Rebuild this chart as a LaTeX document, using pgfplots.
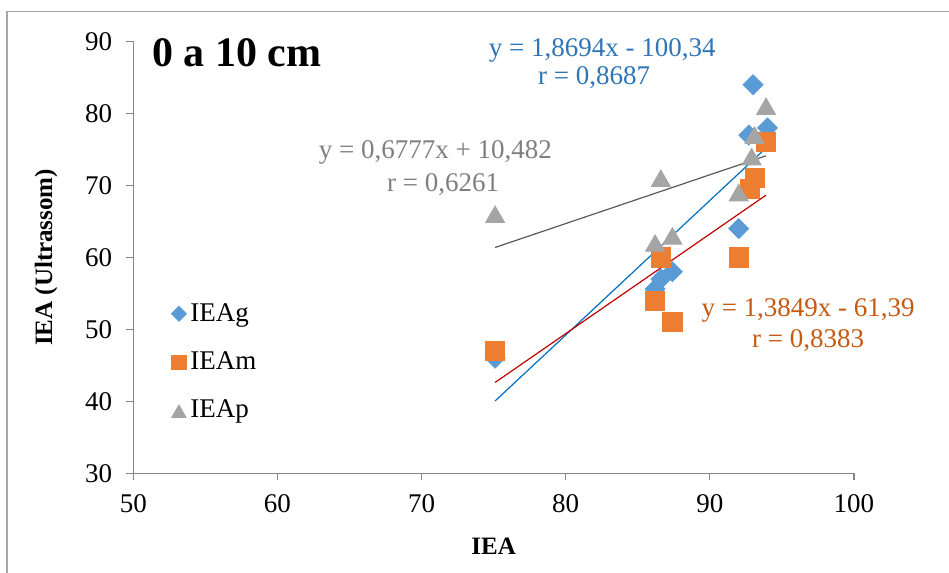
\documentclass[border=0pt]{standalone}
\usepackage{fontspec}
\setmainfont{Liberation Serif}
\usepackage{pgfplots}
\pgfplotsset{compat=1.18}
\definecolor{cg}{HTML}{5B9BD5}
\definecolor{cm}{HTML}{ED7D31}
\definecolor{cp}{HTML}{A5A5A5}
\definecolor{lg}{HTML}{0070C0}
\definecolor{lm}{HTML}{C00000}
\definecolor{lp}{HTML}{595959}
\definecolor{tg}{HTML}{2E75B6}
\definecolor{tm}{HTML}{C55A11}
\definecolor{tp}{HTML}{7F7F7F}
\definecolor{axc}{HTML}{868686}
\definecolor{frc}{HTML}{A6A6A6}
\newcommand{\tf}{\fontsize{13.5}{16}\selectfont}
\begin{document}
\begin{tikzpicture}
\path[use as bounding box] (0,0) rectangle (474.5pt,286.5pt);
\draw[frc, line width=0.8pt] (3.5pt,0) -- (3.5pt,280.75pt) -- (474.5pt,280.75pt);
\begin{axis}[
  at={(66.65pt,49.85pt)}, anchor=south west,
  scale only axis, width=360.35pt, height=215.9pt,
  xmin=50, xmax=100, ymin=30, ymax=90,
  xtick={50,60,...,100}, ytick={30,40,...,90},
  axis lines*=left,
  axis line style={axc, line width=0.6pt, -},
  tick style={axc, line width=0.6pt},
  tick align=outside, major tick length=3.5pt,
  /pgf/number format/assume math mode=true,
  ticklabel style={font=\tf, black},
  xticklabel style={yshift=-3.5pt},
  yticklabel style={xshift=-3.5pt},
  xlabel={\textbf{IEA}}, ylabel={\textbf{IEA (Ultrassom)}},
  xlabel shift=6pt, ylabel shift=7pt,
  label style={font=\fontsize{12.5}{15}\selectfont},
  clip=false,
  legend cell align=left,
  legend style={draw=none, fill=none, font=\tf, at={(rel axis cs:0.044,0.413)}, anchor=north west, row sep=9.75pt},
  legend image code/.code={\draw[mark repeat=2,mark phase=2,#1,every mark/.append style={scale=0.75}] plot coordinates {(0pt,0pt)(2.5pt,0pt)(5pt,0pt)};},
]
\addplot[only marks, mark=diamond*, mark size=5pt, color=cg, mark options={xscale=1.333, fill=cg, draw=cg}] coordinates {
(75.1,46) (86.2,55.6) (86.6,57) (87.4,58) (92.0,64) (92.7,77) (93.0,84) (94.0,78)
};
\addlegendentry{IEAg}
\addplot[only marks, mark=square*, mark size=4.8pt, color=cm, mark options={fill=cm, draw=cm}] coordinates {
(75.1,47) (86.2,54) (86.6,60) (87.4,51) (92.0,60) (92.8,69.5) (93.1,71) (93.9,76)
};
\addlegendentry{IEAm}
\addplot[only marks, mark=triangle*, mark size=5.5pt, color=cp, mark options={fill=cp, draw=cp, yshift=-1.4pt}] coordinates {
(75.1,66) (86.2,62) (86.6,71) (87.4,63) (92.0,69) (92.9,74) (93.1,77) (93.9,81)
};
\addlegendentry{IEAp}
\addplot[lg, line width=0.6pt, forget plot] coordinates {(75.1,40.05) (93.9,75.20)};
\addplot[lm, line width=0.6pt, forget plot] coordinates {(75.1,42.62) (93.9,68.65)};
\addplot[lp, line width=0.6pt, forget plot] coordinates {(75.1,61.38) (93.9,74.12)};
\node[font=\fontsize{21}{24}\selectfont\bfseries, anchor=west, inner sep=0pt] at (axis cs:51.3,88.5) {0 a 10 cm};
\node[font=\tf, tg] at (axis cs:82.53,88.8) {y = 1,8694x - 100,34};
\node[font=\tf, tg] at (axis cs:81.97,84.93) {r = 0,8687};
\node[font=\tf, tp] at (axis cs:70.96,74.65) {y = 0,6777x + 10,482};
\node[font=\tf, tp] at (axis cs:71.5,70.06) {r = 0,6261};
\node[font=\tf, tm] at (axis cs:96.82,52.6) {y = 1,3849x - 61,39};
\node[font=\tf, tm] at (axis cs:96.82,48.5) {r = 0,8383};
\end{axis}
\end{tikzpicture}
\end{document}
